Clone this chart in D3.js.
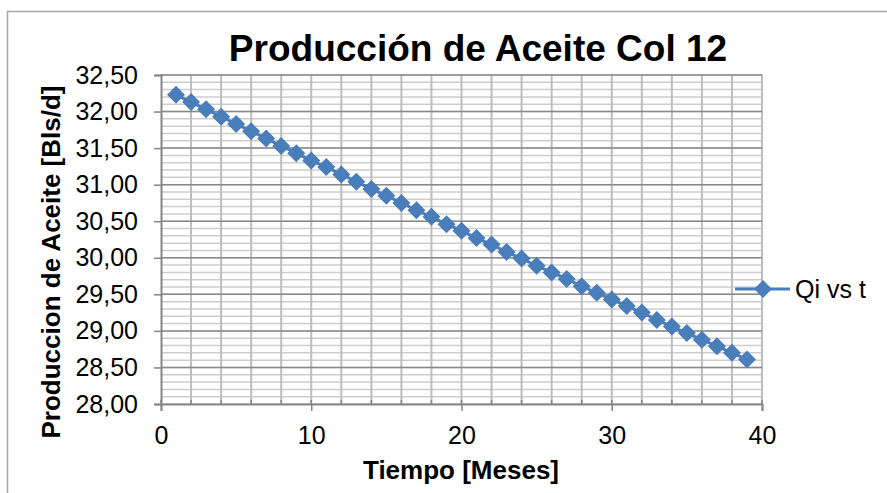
<!DOCTYPE html>
<html>
<head>
<meta charset="utf-8">
<script src="https://cdn.jsdelivr.net/npm/d3@7"></script>
<style>
  body { margin: 0; background: #fff; }
  svg { display: block; font-family: "Liberation Sans", Arial, sans-serif; }
</style>
</head>
<body>
<svg width="887" height="493"></svg>
<script>
// chart values
const tiempo = [1,2,3,4,5,6,7,8,9,10,11,12,13,14,15,16,17,18,19,20,
  21,22,23,24,25,26,27,28,29,30,31,32,33,34,35,36,37,38,39]
const qi = [32.23,32.13,32.03,31.93,31.83,31.73,31.63,31.53,31.43,31.33,
  31.24,31.14,31.04,30.94,30.85,30.75,30.65,30.56,30.46,30.37,
  30.27,30.18,30.08,29.99,29.89,29.80,29.71,29.61,29.52,29.43,
  29.34,29.25,29.15,29.06,28.97,28.88,28.79,28.70,28.61]
const xTicks = [0,10,20,30,40]
const yTicks = [28,28.5,29,29.5,30,30.5,31,31.5,32,32.5]
const titulo = "Producción de Aceite Col 12"
const tituloX = "Tiempo [Meses]"
const tituloY = "Produccion de Aceite [Bls/d]"
const serie = "Qi vs t"

const DATA = tiempo.map((t, i) => [t, qi[i]])

const svg = d3.select("svg")
const azul = "#4a7ebb"

var margin = {top: 75, left: 161},
    width = 601,
    height = 329;

// outer chart border
svg.append("rect")
    .attr("x", 7.5).attr("y", 11.5)
    .attr("width", 900).attr("height", 500)
    .attr("fill", "none")
    .attr("stroke", "#a6a6a6")
    .attr("stroke-width", 1.5)

var g = svg.append("g")
    .attr("transform", "translate(" + margin.left + "," + margin.top + ")")

var x = d3.scaleLinear().domain([0, 40]).range([0, width])
var y = d3.scaleLinear().domain([28, 32.5]).range([height, 0])

// minor horizontal gridlines every 0.1
g.append("g").selectAll("line")
    .data(y.ticks(45))
    .enter().append("line")
    .attr("x1", 0).attr("x2", width)
    .attr("y1", d => y(d)).attr("y2", d => y(d))
    .attr("stroke", "#cdcdcd").attr("stroke-width", 1.5)

// vertical gridlines every 2
g.append("g").selectAll("line")
    .data(x.ticks(20).filter(d => d > 0))
    .enter().append("line")
    .attr("x1", d => x(d)).attr("x2", d => x(d))
    .attr("y1", 0).attr("y2", height)
    .attr("stroke", "#bdbdbd").attr("stroke-width", 2)

// major horizontal gridlines
g.append("g").selectAll("line")
    .data(yTicks.filter(d => d > 28))
    .enter().append("line")
    .attr("x1", 0).attr("x2", width)
    .attr("y1", d => y(d)).attr("y2", d => y(d))
    .attr("stroke", "#898989").attr("stroke-width", 1.5)

// axes
var fmt = d => d3.format(".2f")(d).replace(".", ",")

var yAxis = g.append("g")
    .call(d3.axisLeft(y).tickValues(yTicks).tickSize(7).tickPadding(16).tickFormat(fmt))
yAxis.select(".domain").attr("stroke", "#868686").attr("stroke-width", 2)
yAxis.selectAll(".tick line").attr("stroke", "#868686").attr("stroke-width", 1.5)
yAxis.selectAll("text").attr("font-size", 25).attr("fill", "#000")
    .attr("font-family", "Liberation Sans, Arial, sans-serif")

// minor x ticks pointing up
g.append("g").selectAll("line")
    .data(x.ticks(20))
    .enter().append("line")
    .attr("x1", d => x(d)).attr("x2", d => x(d))
    .attr("y1", height - 4).attr("y2", height)
    .attr("stroke", "#868686").attr("stroke-width", 1.5)

var xAxis = g.append("g")
    .attr("transform", "translate(0," + height + ")")
    .call(d3.axisBottom(x).tickValues(xTicks).tickSize(7).tickPadding(15).tickFormat(d3.format("d")))
xAxis.select(".domain").attr("stroke", "#868686").attr("stroke-width", 2)
xAxis.selectAll(".tick line").attr("stroke", "#868686").attr("stroke-width", 1.5)
xAxis.selectAll("text").attr("font-size", 25).attr("fill", "#000")
    .attr("font-family", "Liberation Sans, Arial, sans-serif")

// series
var linea = d3.line().x(d => x(d[0])).y(d => y(d[1]))
g.append("path")
    .datum(DATA)
    .attr("d", linea)
    .attr("fill", "none")
    .attr("stroke", azul)
    .attr("stroke-width", 3)

var diamante = "M0,-9L9,0L0,9L-9,0Z"
g.append("g").selectAll("path")
    .data(DATA)
    .enter().append("path")
    .attr("d", diamante)
    .attr("transform", d => "translate(" + x(d[0]) + "," + y(d[1]) + ")")
    .attr("fill", azul)

// titles
svg.append("text")
    .attr("x", 478).attr("y", 61)
    .attr("text-anchor", "middle")
    .attr("font-size", 37).attr("font-weight", "bold")
    .text(titulo)

svg.append("text")
    .attr("x", 461).attr("y", 479)
    .attr("text-anchor", "middle")
    .attr("font-size", 26).attr("font-weight", "bold")
    .text(tituloX)

svg.append("text")
    .attr("transform", "translate(60,262) rotate(-90)")
    .attr("text-anchor", "middle")
    .attr("font-size", 26).attr("font-weight", "bold")
    .text(tituloY)

// legend
var ley = svg.append("g").attr("transform", "translate(735,289)")
ley.append("line")
    .attr("x1", 0).attr("x2", 55)
    .attr("stroke", azul).attr("stroke-width", 3)
ley.append("path").attr("d", diamante)
    .attr("transform", "translate(28,0)")
    .attr("fill", azul)
ley.append("text")
    .attr("x", 60).attr("y", 9)
    .attr("font-size", 25)
    .text(serie)
</script>
</body>
</html>
